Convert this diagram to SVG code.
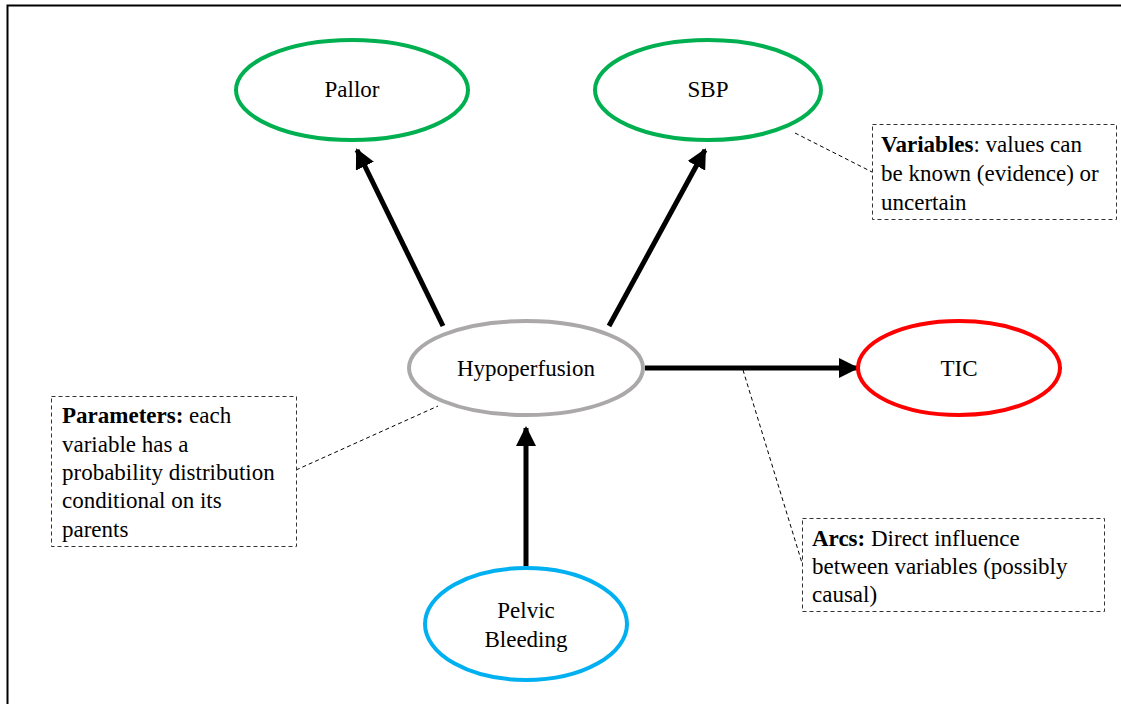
<svg xmlns="http://www.w3.org/2000/svg" width="1121" height="704" viewBox="0 0 1121 704">
<style>
text{font-family:"Liberation Serif","Times New Roman",serif;font-size:23px;fill:#000}
.node{fill:#fff;stroke-width:4}
.lbl{text-anchor:middle}
.arc{stroke:#000;stroke-width:5;fill:none;marker-end:url(#ah)}
.note{fill:#fff;stroke:#333;stroke-width:1;stroke-dasharray:4 3}
.lead{stroke:#000;stroke-width:1;stroke-dasharray:4 3;fill:none}
</style>
<defs>
<marker id="ah" viewBox="0 0 10 10" refX="9" refY="5" markerWidth="4" markerHeight="4" orient="auto" markerUnits="strokeWidth">
<path d="M0,0 L10,5 L0,10 z" fill="#000"/>
</marker>
</defs>
<rect x="0" y="0" width="1121" height="704" fill="#fff"/>
<path d="M7.5,704 V5.5 H1121" fill="none" stroke="#000" stroke-width="2"/>
<g id="connectors">
<line class="arc" x1="443" y1="326" x2="357" y2="150"/>
<line class="arc" x1="609" y1="326" x2="705" y2="150"/>
<line class="arc" x1="645" y1="368" x2="857" y2="368"/>
<line class="arc" x1="526" y1="566" x2="526" y2="428"/>
<line class="lead" x1="795" y1="133" x2="872" y2="172"/>
<line class="lead" x1="296" y1="470" x2="438" y2="406"/>
<line class="lead" x1="743" y1="370" x2="802" y2="563"/>
</g>
<g id="pallor">
<ellipse class="node" cx="352" cy="90" rx="116" ry="50" stroke="#00b050"/>
<text class="lbl" x="352" y="97">Pallor</text>
</g>
<g id="sbp">
<ellipse class="node" cx="708" cy="90" rx="113" ry="50" stroke="#00b050"/>
<text class="lbl" x="708" y="97">SBP</text>
</g>
<g id="hypoperfusion">
<ellipse class="node" cx="526" cy="368" rx="117" ry="47" stroke="#aaa8a8"/>
<text class="lbl" x="526" y="376">Hypoperfusion</text>
</g>
<g id="tic">
<ellipse class="node" cx="959" cy="368" rx="101" ry="47" stroke="#ff0000"/>
<text class="lbl" x="959" y="376">TIC</text>
</g>
<g id="pelvic">
<ellipse class="node" cx="526" cy="624" rx="101" ry="56" stroke="#00b0f0"/>
<text class="lbl" x="526" y="618">Pelvic</text>
<text class="lbl" x="526" y="647">Bleeding</text>
</g>
<g id="note-variables">
<rect class="note" x="872.5" y="124.5" width="244" height="95"/>
<text x="881" y="152"><tspan font-weight="bold">Variables</tspan>: values can</text>
<text x="881" y="181">be known (evidence) or</text>
<text x="881" y="210">uncertain</text>
</g>
<g id="note-parameters">
<rect class="note" x="51.5" y="396.5" width="245" height="150"/>
<text x="62" y="423"><tspan font-weight="bold">Parameters:</tspan> each</text>
<text x="62" y="452">variable has a</text>
<text x="62" y="480">probability distribution</text>
<text x="62" y="508">conditional on its</text>
<text x="62" y="537">parents</text>
</g>
<g id="note-arcs">
<rect class="note" x="802.5" y="518.5" width="302" height="93"/>
<text x="812" y="546"><tspan font-weight="bold">Arcs:</tspan> Direct influence</text>
<text x="812" y="574">between variables (possibly</text>
<text x="812" y="602">causal)</text>
</g>
</svg>
